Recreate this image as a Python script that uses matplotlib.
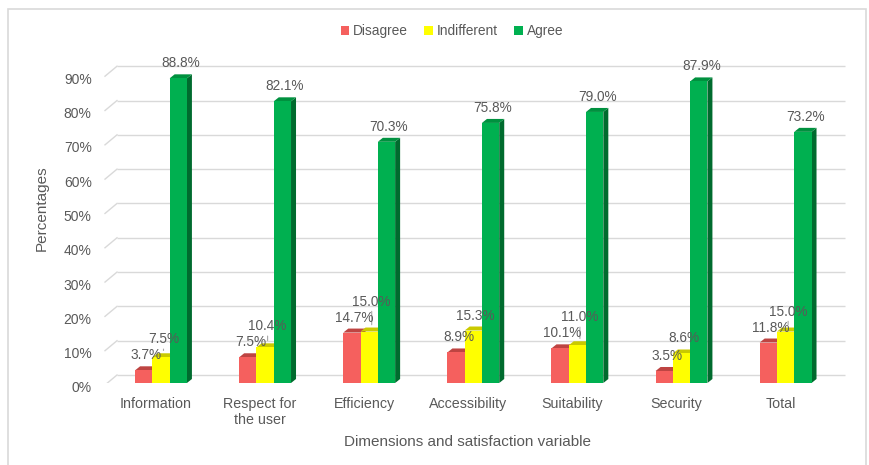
import numpy as np
import matplotlib
matplotlib.use("Agg")
import matplotlib.pyplot as plt
from matplotlib.patches import Polygon, Patch, Rectangle
from matplotlib.transforms import ScaledTranslation

plt.rcParams['font.family'] = ['Liberation Sans', 'DejaVu Sans']

categories = ['Information', 'Respect for\nthe user', 'Efficiency', 'Accessibility',
              'Suitability', 'Security', 'Total']
disagree = [3.7, 7.5, 14.7, 8.9, 10.1, 3.5, 11.8]
indifferent = [7.5, 10.4, 15.0, 15.3, 11.0, 8.6, 15.0]
agree = [88.8, 82.1, 70.3, 75.8, 79.0, 87.9, 73.2]
series_names = ['Disagree', 'Indifferent', 'Agree']
yticks = [0, 10, 20, 30, 40, 50, 60, 70, 80, 90]

front = ['#F5605E', '#FFFF00', '#00B050']
top = ['#BE4442', '#CACA00', '#00913F']
side = ['#A83B3A', '#B5B500', '#006B2E']
txt = '#595959'
grid = '#D9D9D9'

W, H = 870, 465
fig = plt.figure(figsize=(W / 100, H / 100), dpi=100)

# plot area: x=0 category center at px 161, 104.1 px per category; y=0 at px 383
L, R, B, T = 100, 850, 383, 40
pxx, pxy = 104.1, 3.431
ax = fig.add_axes([L / W, 1 - B / H, (R - L) / W, (B - T) / H])
x0 = (L - 161) / pxx
ax.set_xlim(x0, x0 + (R - L) / pxx)
ax.set_ylim(0, (B - T) / pxy)

def dxp(p):
    return p / pxx

def dyp(p):
    return p / pxy

# back wall gridlines with floor diagonal
gx_start = x0 + dxp(117 - L)
gx_end = x0 + dxp(845 - L)
dg_start = x0 + dxp(105 - L)
for v in yticks:
    ax.plot([gx_start, gx_end], [v + dyp(8), v + dyp(8)], color=grid, lw=1, zorder=0,
            solid_capstyle='butt')
    ax.plot([dg_start, gx_start], [v - dyp(2), v + dyp(8)], color=grid, lw=1, zorder=0)

bw = 0.166
ddx, ddy = dxp(5), dyp(4)
x = np.arange(len(categories))
series = [disagree, indifferent, agree]
off = 15   # px from bar top to label center
sep = 16   # min px between red and yellow label centers

for i in range(len(categories)):
    red_lab = disagree[i] * pxy + off
    for s, vals in enumerate(series):
        h = vals[i]
        xc = x[i] + (s - 1) * bw
        xl, xr = xc - bw / 2, xc + bw / 2
        z = 2 + s * 3
        ax.add_patch(Polygon([(xr, 0), (xr + ddx, ddy), (xr + ddx, h + ddy), (xr, h)],
                             closed=True, fc=side[s], ec='none', zorder=z))
        ax.add_patch(Polygon([(xl, h), (xr, h), (xr + ddx, h + ddy), (xl + ddx, h + ddy)],
                             closed=True, fc=top[s], ec='none', zorder=z + 1))
        ax.bar(xc, h, width=bw, color=front[s], zorder=z + 2, linewidth=0)

        lab = h * pxy + off
        if s == 1:
            lab = max(lab, red_lab + sep)
        dist = lab - h * pxy
        ax.annotate(f'{h:.1f}%', (xc + ddx / 2, h), xytext=(0, dist * 0.72),
                    textcoords='offset points', ha='center', va='center',
                    fontsize=9.8, color=txt, zorder=20)
        if dist - off > 2:
            ax.annotate('', (xc + ddx / 2, h + dyp(4)), xytext=(xc + ddx / 2, h + dyp(dist - 7)),
                        arrowprops=dict(arrowstyle='-', color='#A6A6A6', lw=0.8), zorder=19)

ax.set_yticks(yticks)
ax.set_yticklabels([f'{v}%' for v in yticks], fontsize=10, color=txt)
ax.set_xticks(x)
ax.set_xticklabels(categories, fontsize=10.3, color=txt, linespacing=1.15)
ax.tick_params(axis='both', length=0)
ax.tick_params(axis='y', pad=6)
ax.tick_params(axis='x', pad=10)
for lab in ax.get_yticklabels():
    lab.set_transform(lab.get_transform() + ScaledTranslation(0, -0.04, fig.dpi_scale_trans))
for lab in ax.get_xticklabels():
    lab.set_transform(lab.get_transform() + ScaledTranslation(-0.05, 0, fig.dpi_scale_trans))
for sp in ax.spines.values():
    sp.set_visible(False)
ax.patch.set_alpha(0)

fig.text(42 / W, 1 - 208 / H, 'Percentages', rotation=90, ha='center', va='center',
         fontsize=11, color=txt)
fig.text(468 / W, 1 - 442 / H, 'Dimensions and satisfaction variable', ha='center',
         va='center', fontsize=11, color=txt)

handles = [Patch(facecolor=c, edgecolor='none', label=n) for c, n in zip(front, series_names)]
fig.legend(handles=handles, loc='center', bbox_to_anchor=(452 / W, 1 - 31 / H), ncol=3,
           frameon=False, fontsize=9.9, handlelength=0.6, handleheight=0.6,
           handletextpad=0.3, columnspacing=1.2, labelcolor=txt)

fig.patches.append(Rectangle((8 / W, -0.05), (866 - 8) / W, 1.05 - 9 / H,
                             transform=fig.transFigure, fill=False, ec=grid, lw=1.2))

fig.savefig('out.png', dpi=100)
